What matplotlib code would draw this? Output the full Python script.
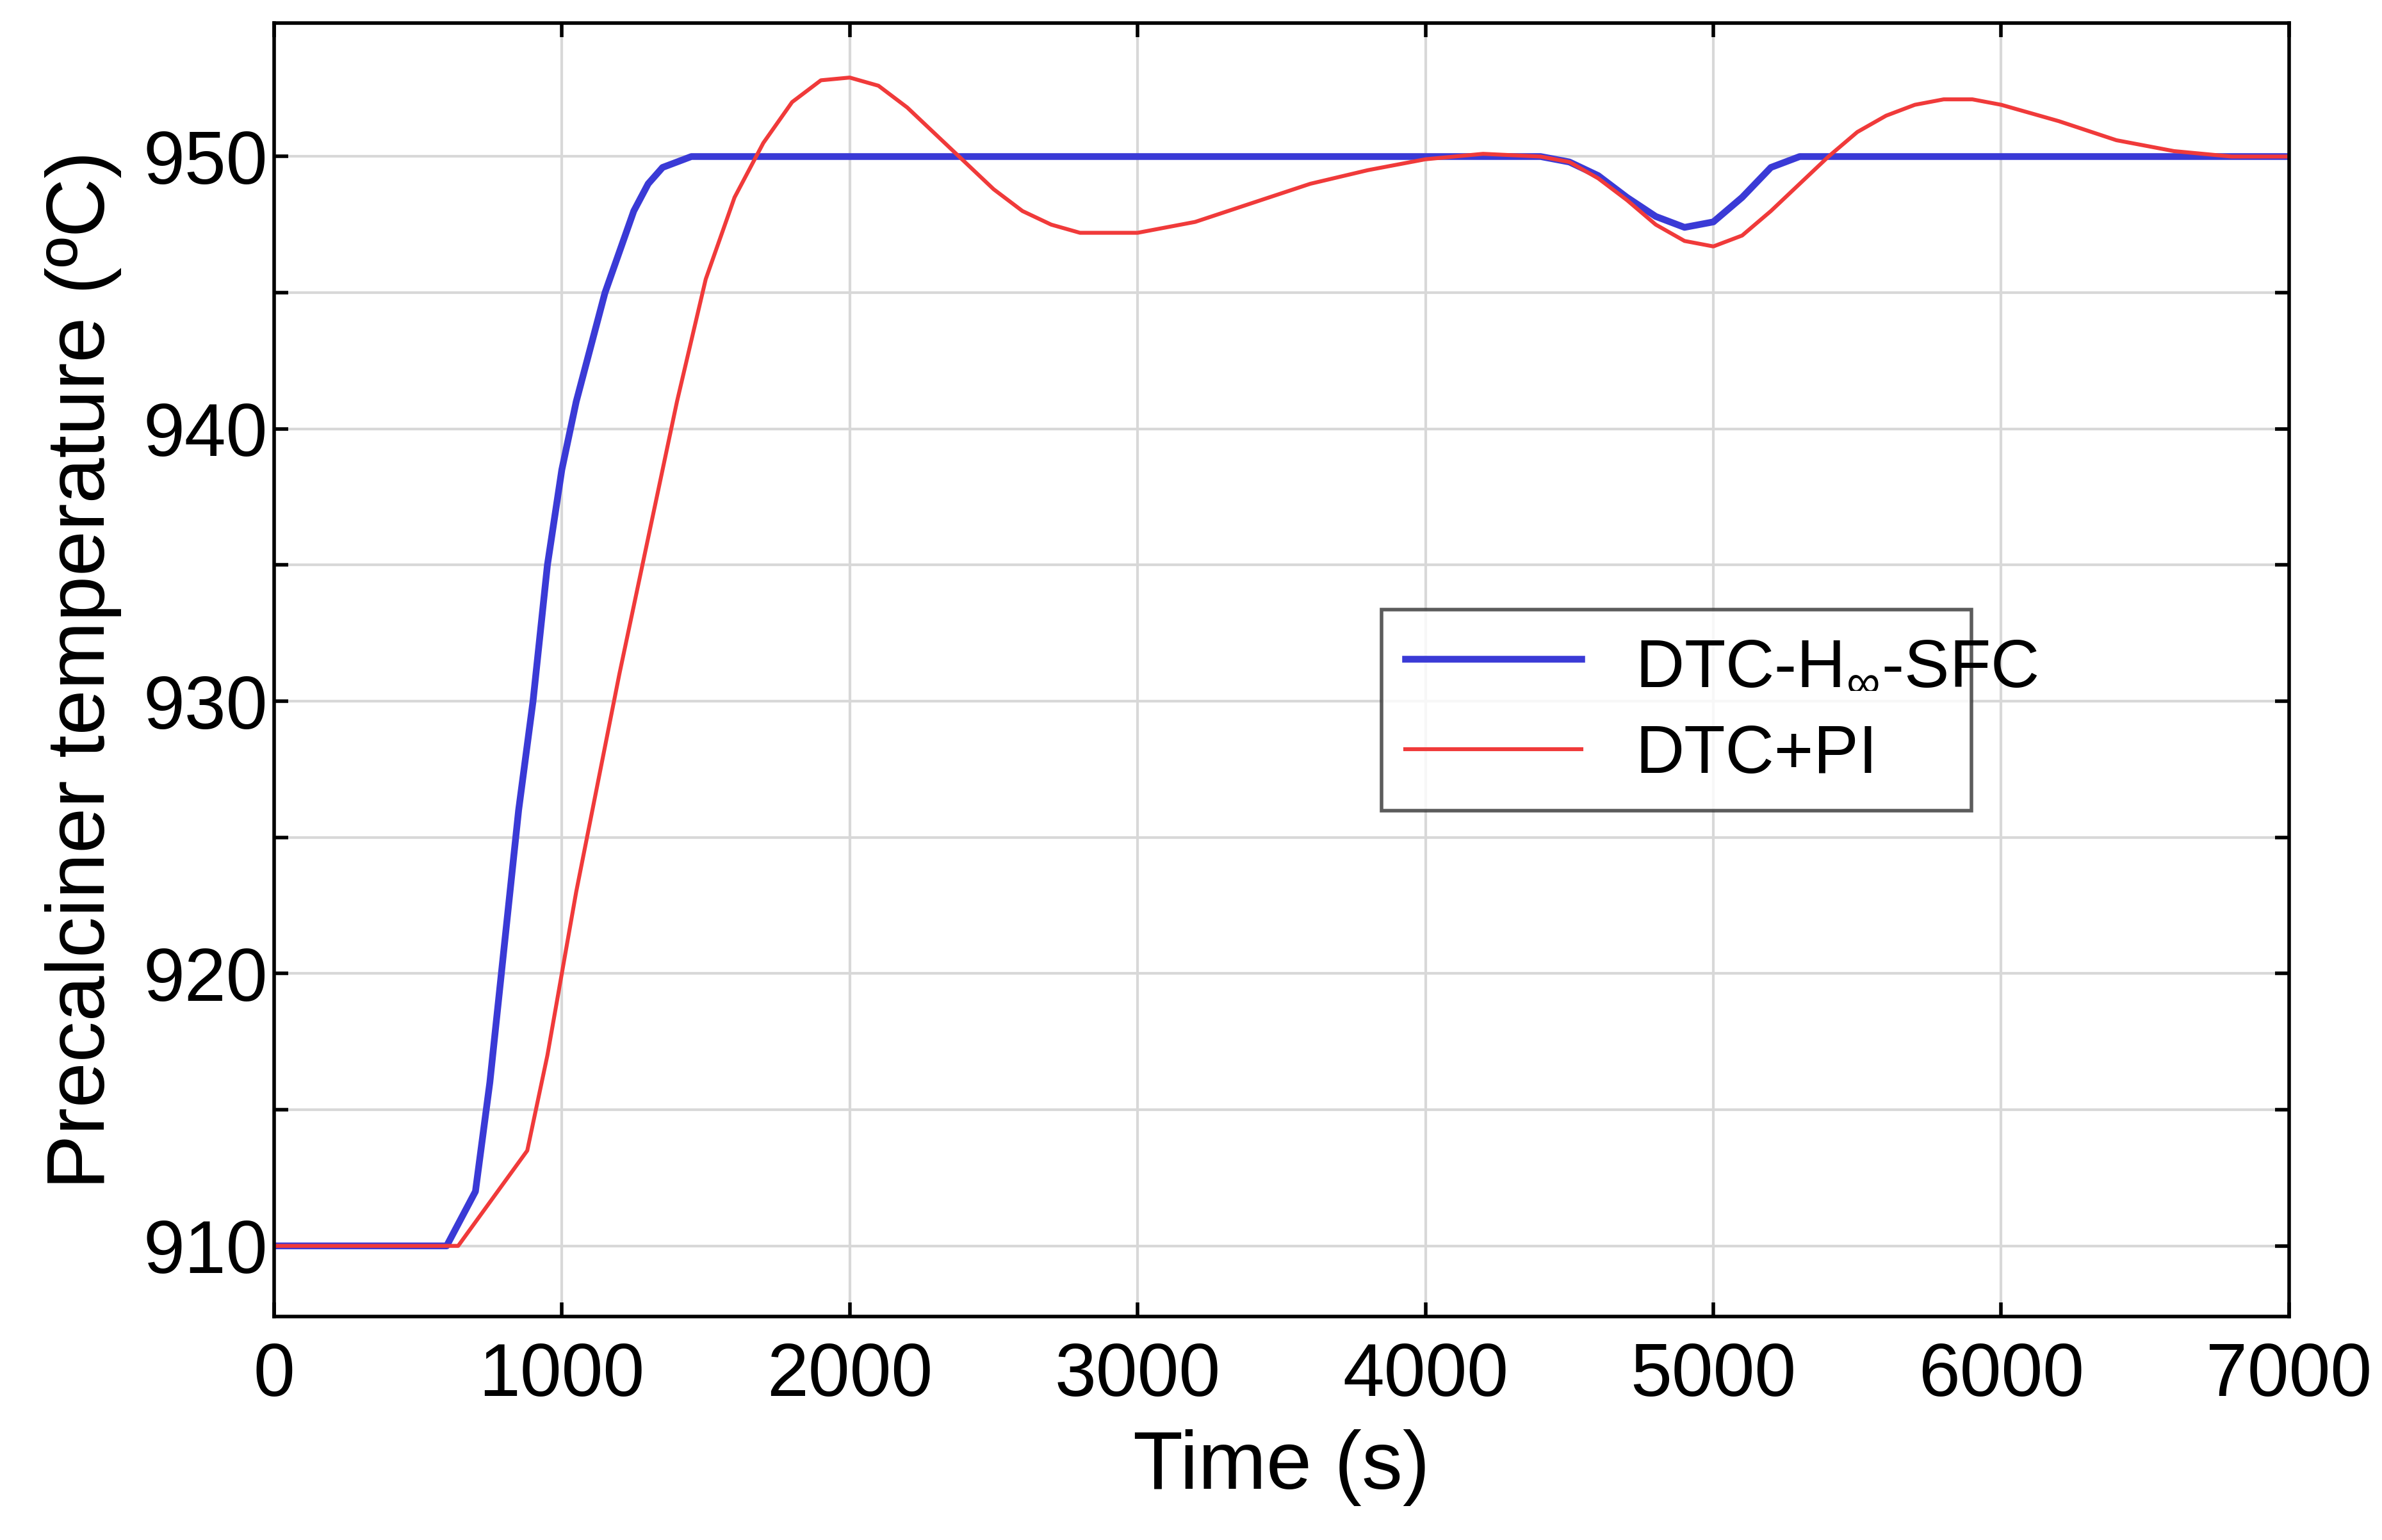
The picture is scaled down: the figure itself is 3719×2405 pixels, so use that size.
import matplotlib
matplotlib.use("Agg")
import matplotlib.pyplot as plt

plt.rcParams['font.family'] = ['Liberation Sans', 'DejaVu Sans']
plt.rcParams['mathtext.fontset'] = 'custom'
plt.rcParams['mathtext.rm'] = 'Liberation Sans'

blue_t = [0,600,700,750,800,850,900,950,1000,1050,1100,1150,1200,1250,1300,1350,1450,4300,4400,4500,4600,4700,4800,4900,5000,5100,5200,5300,7000]
blue_y = [910,910,912,916,921,926,930,935,938.5,941,943,945,946.5,948,949,949.6,950,950,950,949.8,949.3,948.5,947.8,947.4,947.6,948.5,949.6,950,950]
red_t = [0,640,880,950,1050,1200,1300,1400,1500,1600,1700,1800,1900,2000,2100,2200,2300,2400,2500,2600,2700,2800,3000,3200,3400,3600,3800,4000,4200,4400,4500,4600,4700,4800,4900,5000,5100,5200,5300,5400,5500,5600,5700,5800,5900,6000,6200,6400,6600,6800,7000]
red_y = [910,910,913.5,917,923,931,936,941,945.5,948.5,950.5,952,952.8,952.9,952.6,951.8,950.8,949.8,948.8,948,947.5,947.2,947.2,947.6,948.3,949,949.5,949.9,950.1,950,949.8,949.2,948.4,947.5,946.9,946.7,947.1,948,949,950,950.9,951.5,951.9,952.1,952.1,951.9,951.3,950.6,950.2,950,950]
xticks = [0,1000,2000,3000,4000,5000,6000,7000]
yticks = [910,920,930,940,950]

fig = plt.figure(figsize=(18.595, 12.025), dpi=200)
ax = fig.add_axes([0.115, 0.145, 0.846, 0.84])
ax.plot(blue_t, blue_y, color='#3a3ad6', lw=3.8, label='DTC-H$_{\\infty}$-SFC')
ax.plot(red_t, red_y, color='#f03a3a', lw=2.2, label='DTC+PI')
ax.set_xlim(0, 7000)
ax.set_ylim(907.4, 954.9)
ax.set_xticks(xticks)
ax.set_yticks(yticks)
ax.set_yticks([915,925,935,945], minor=True)
ax.grid(True, which='both', color='#d8d8d8', lw=1.5)
ax.tick_params(labelsize=42, width=2, length=8, direction='in', top=True, right=True)
ax.tick_params(axis='x', pad=14)
ax.tick_params(which='minor', length=8, width=2, direction='in', right=True)
for s in ax.spines.values():
    s.set_linewidth(2)
ax.set_xlabel('Time (s)', fontsize=46, labelpad=10)
ax.set_ylabel('Precalciner temperature (\u00baC)', fontsize=46, labelpad=12)
leg = ax.legend(loc='lower left', bbox_to_anchor=(0.533, 0.365, 0.326, 0.152), mode='expand',
                fontsize=38, fancybox=False, edgecolor='#333333', handlelength=2.6,
                borderpad=0.35, labelspacing=0.4)
leg.get_frame().set_linewidth(2)
fig.savefig('out.png', dpi=200)
